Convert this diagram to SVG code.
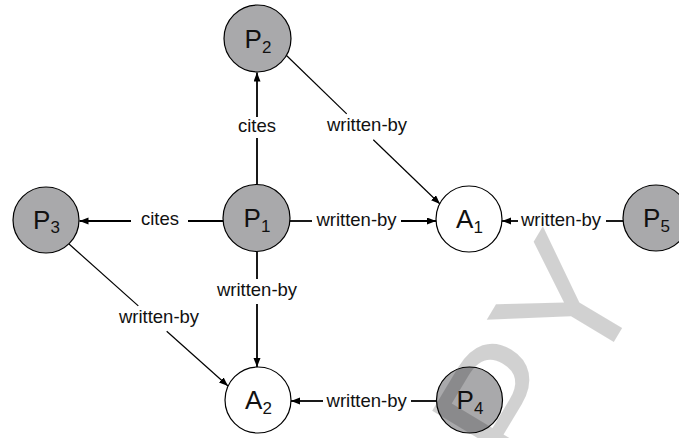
<svg xmlns="http://www.w3.org/2000/svg" width="679" height="438" viewBox="0 0 679 438">
  <defs>
    <marker id="arrow" markerUnits="userSpaceOnUse" markerWidth="10" markerHeight="8" refX="9" refY="3.5" orient="auto">
      <path d="M0,0 L9,3.5 L0,7 z" fill="#000"/>
    </marker>
    <style>
      .node { stroke: #000; stroke-width: 1.2; }
      .paper { fill: #a9a9ab; }
      .author { fill: #fff; }
      .nlabel { font-family: "Liberation Sans", Arial, sans-serif; font-size: 26px; fill: #111; text-anchor: middle; }
      .sub { font-size: 17px; }
      .elabel { font-family: "Liberation Sans", Arial, sans-serif; font-size: 18.5px; fill: #111; text-anchor: middle; }
      .edge { stroke: #000; stroke-width: 1.8; fill: none; }
      .diag { stroke: #000; stroke-width: 1.2; fill: none; }
      .mark { font-family: "Liberation Sans", Arial, sans-serif; font-size: 175px; fill: #000; fill-opacity: 0.18; }
    </style>
  </defs>
  <rect width="679" height="438" fill="#fff"/>

  <g id="connectors">
    <!-- P1 cites P2 -->
    <line class="edge" x1="257" y1="184.5" x2="257" y2="138"/>
    <line class="edge" x1="257" y1="117" x2="257" y2="72.5" marker-end="url(#arrow)"/>
    <text class="elabel" x="257" y="132">cites</text>
    <!-- P1 cites P3 -->
    <line class="edge" x1="223" y1="221" x2="188" y2="221"/>
    <line class="edge" x1="131" y1="221" x2="79.5" y2="221" marker-end="url(#arrow)"/>
    <text class="elabel" x="160" y="225">cites</text>
    <!-- P1 written-by A1 -->
    <line class="edge" x1="290" y1="221" x2="312" y2="221"/>
    <line class="edge" x1="401" y1="221" x2="436" y2="221" marker-end="url(#arrow)"/>
    <text class="elabel" x="356.5" y="226">written-by</text>
    <!-- P5 written-by A1 -->
    <line class="edge" x1="623" y1="221" x2="606" y2="221"/>
    <line class="edge" x1="518" y1="221" x2="502" y2="221" marker-end="url(#arrow)"/>
    <text class="elabel" x="561" y="226">written-by</text>
    <!-- P1 written-by A2 -->
    <line class="edge" x1="257" y1="251.5" x2="257" y2="279"/>
    <line class="edge" x1="257" y1="304" x2="257" y2="367" marker-end="url(#arrow)"/>
    <text class="elabel" x="257" y="296">written-by</text>
    <!-- P4 written-by A2 -->
    <line class="edge" x1="436.5" y1="401" x2="411" y2="401"/>
    <line class="edge" x1="323" y1="401" x2="291" y2="401" marker-end="url(#arrow)"/>
    <text class="elabel" x="366.7" y="407">written-by</text>
    <!-- P2 written-by A1 -->
    <line class="diag" x1="286.5" y1="55.5" x2="346.7" y2="113.9"/>
    <line class="diag" x1="373.3" y1="139.7" x2="440" y2="204" marker-end="url(#arrow)"/>
    <text class="elabel" x="367" y="131">written-by</text>
    <!-- P3 written-by A2 -->
    <line class="diag" x1="69" y1="244" x2="138.3" y2="305.9"/>
    <line class="diag" x1="166.7" y1="331.2" x2="228" y2="386" marker-end="url(#arrow)"/>
    <text class="elabel" x="159" y="323">written-by</text>
  </g>

  <g id="P1">
    <circle class="node paper" cx="256.5" cy="218" r="33.5"/>
    <text class="nlabel" x="257" y="227">P<tspan class="sub" dy="4.5">1</tspan></text>
  </g>
  <g id="P2">
    <circle class="node paper" cx="257.5" cy="38.5" r="33.5"/>
    <text class="nlabel" x="258" y="48">P<tspan class="sub" dy="4.5">2</tspan></text>
  </g>
  <g id="P3">
    <circle class="node paper" cx="46" cy="220" r="33"/>
    <text class="nlabel" x="46.5" y="228.5">P<tspan class="sub" dy="4.5">3</tspan></text>
  </g>
  <g id="A1">
    <circle class="node author" cx="469" cy="219" r="33"/>
    <text class="nlabel" x="469.5" y="228">A<tspan class="sub" dy="4.5">1</tspan></text>
  </g>
  <g id="P5">
    <circle class="node paper" cx="656" cy="218" r="33"/>
    <text class="nlabel" x="656.5" y="227">P<tspan class="sub" dy="4.5">5</tspan></text>
  </g>
  <g id="A2">
    <circle class="node author" cx="258" cy="400" r="33"/>
    <text class="nlabel" x="258.5" y="409">A<tspan class="sub" dy="4.5">2</tspan></text>
  </g>
  <g id="P4">
    <circle class="node paper" cx="469.5" cy="400" r="33"/>
    <text class="nlabel" x="470" y="409">P<tspan class="sub" dy="4.5">4</tspan></text>
  </g>

  <!-- translucent watermark lettering -->
  <text class="mark" transform="translate(528 485) rotate(-59)">PY</text>
</svg>
